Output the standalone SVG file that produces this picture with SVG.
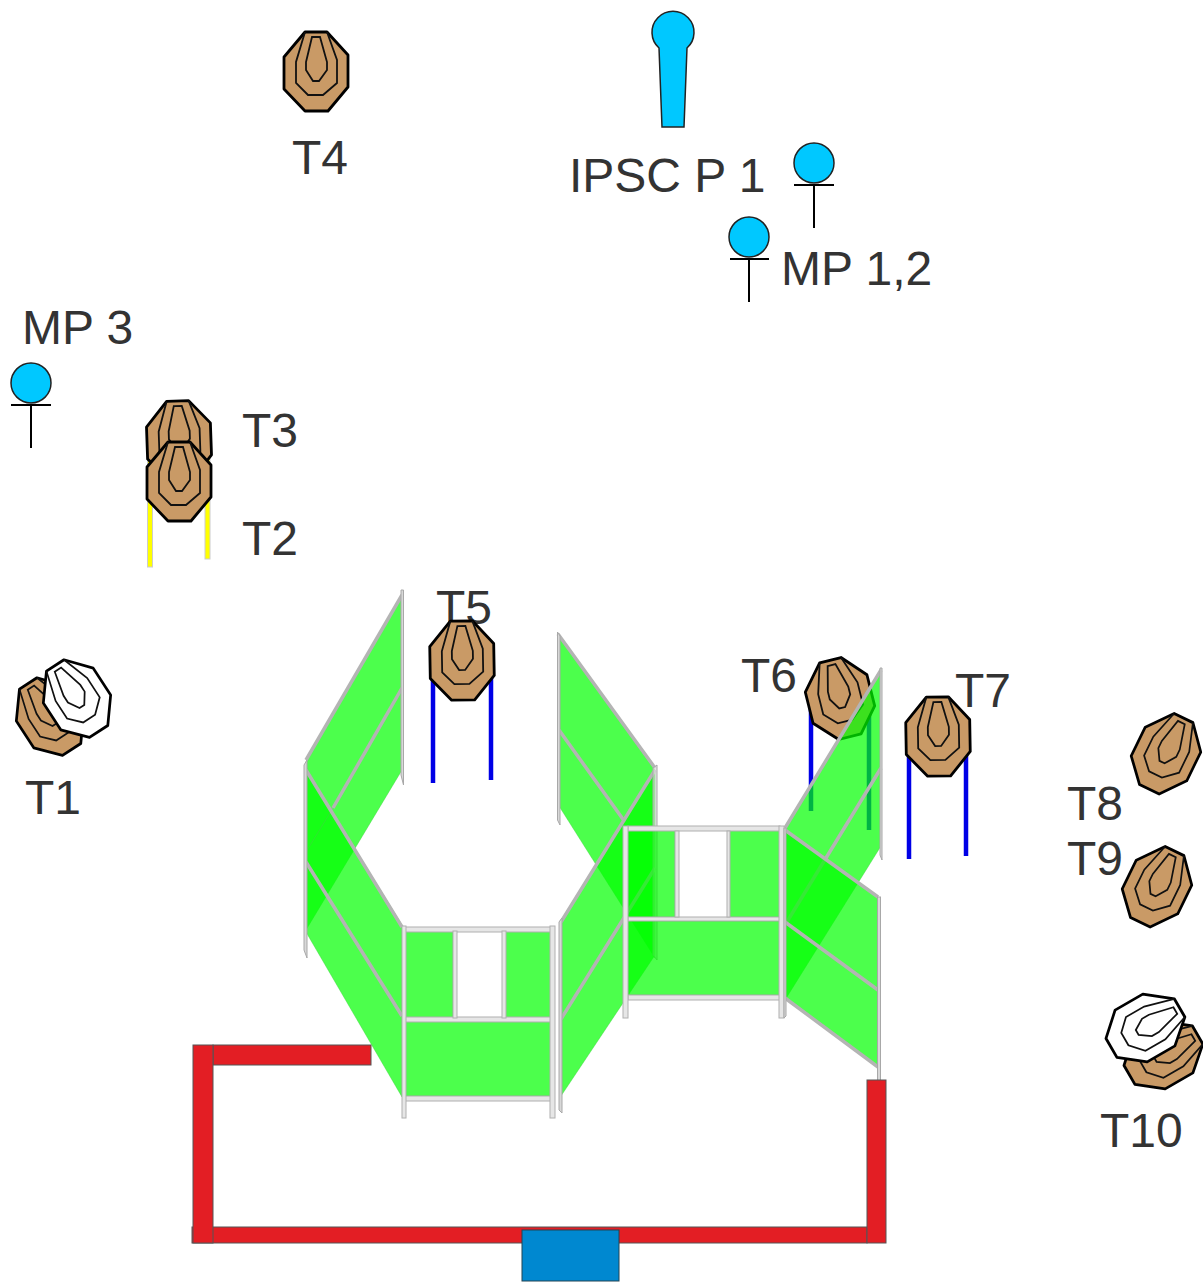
<svg xmlns="http://www.w3.org/2000/svg" xmlns:xlink="http://www.w3.org/1999/xlink" width="1203" height="1282" viewBox="0 0 1203 1282">
<style>
text{font-family:"Liberation Sans",Arial,sans-serif;font-size:48px;fill:#333}
.o{stroke:#000;stroke-width:2.8;stroke-linejoin:round}
.r{fill:none;stroke:#111;stroke-width:1.8}
.tb{fill:#c99a66}
.tw{fill:#fff}
.p{fill:#00ff00;fill-opacity:.7;stroke:#33cc33;stroke-opacity:.5;stroke-width:.8}
.g{stroke:#b4b4b4;stroke-width:3.5;fill:none}
.f{fill:#e6e6e6;stroke:#b0b0b0;stroke-width:1}
.s{fill:#d8d8d8;stroke:#a8a8a8;stroke-width:1}
.bl{stroke:#0000e6;stroke-width:4.5}
.ye{fill:#ffff00;stroke:#ccc;stroke-width:1}
.red{fill:#e31e24;stroke:#555;stroke-width:1}
.pp{fill:#00c8ff;stroke:#222;stroke-width:1.5}
.k{stroke:#000;stroke-width:2;fill:none}
</style>
<defs>
<g id="tgt">
<polygon class="o" points="-11,-40 11,-40 32,-17 32,15 12,39 -11,39 -32,17 -32,-15"/>
<polyline class="r" points="-11,-40 -20,-10 -20,11 -8,23 7,23 21,11 21,-12 11,-40"/>
<polygon class="r" points="-4,-35 4,-35 11,-10 11,-2 3,9 -3,9 -10,-2 -10,-10"/>
</g>
</defs>
<g id="labels">
<text x="292" y="174">T4</text>
<text x="569" y="192">IPSC P 1</text>
<text x="781" y="285">MP 1,2</text>
<text x="22" y="344">MP 3</text>
<text x="242" y="447">T3</text>
<text x="242" y="555">T2</text>
<text x="436" y="624">T5</text>
<text x="741" y="692">T6</text>
<text x="955" y="707">T7</text>
<text x="25" y="814">T1</text>
<text x="1067" y="820">T8</text>
<text x="1067" y="875">T9</text>
<text x="1100" y="1147">T10</text>
</g>
<g id="T4"><use class="tb" xlink:href="#tgt" href="#tgt" transform="translate(316,72)"/></g>
<g id="IPSC-P1">
<path class="pp" d="M659 48A21 21 0 1 1 687 48L684 127H662Z"/>
</g>
<g id="MP1"><circle class="pp" cx="814" cy="163" r="20"/><path class="k" d="M794 185H834M814 185V228"/></g>
<g id="MP2"><circle class="pp" cx="749" cy="237" r="20"/><path class="k" d="M730 259H769M749 259V302"/></g>
<g id="MP3"><circle class="pp" cx="31" cy="383" r="20"/><path class="k" d="M11 405H51M31 405V448"/></g>
<g id="T2-T3">
<rect class="ye" x="147.500" y="460" width="5" height="107"/>
<rect class="ye" x="205" y="455" width="5" height="104"/>
<use class="tb" xlink:href="#tgt" href="#tgt" transform="translate(179,441) rotate(-2)"/>
<use class="tb" xlink:href="#tgt" href="#tgt" transform="translate(179,482)"/>
</g>
<g id="T1">
<use class="tb" xlink:href="#tgt" href="#tgt" transform="translate(50,717) rotate(-33) scale(.95,1)"/>
<use class="tw" xlink:href="#tgt" href="#tgt" transform="translate(77,699) rotate(-33) scale(.95,1)"/>
</g>
<g id="T8"><use class="tb" xlink:href="#tgt" href="#tgt" transform="translate(1166,754) rotate(26) scale(.95,1)"/></g>
<g id="T9"><use class="tb" xlink:href="#tgt" href="#tgt" transform="translate(1157,887) rotate(26) scale(.95,1)"/></g>
<g id="T10">
<use class="tb" xlink:href="#tgt" href="#tgt" transform="translate(1163,1055) rotate(60) scale(.95,1)"/>
<use class="tw" xlink:href="#tgt" href="#tgt" transform="translate(1145,1028) rotate(60) scale(.95,1)"/>
</g>
<g id="T6">
<path class="bl" d="M811 700V811M869 700V830"/>
<use class="tb" xlink:href="#tgt" href="#tgt" transform="translate(840,699) rotate(-14)"/>
</g>
<g id="T5">
<path class="bl" d="M433 670V783M491 670V780"/>
<use class="tb" xlink:href="#tgt" href="#tgt" transform="translate(462,661) rotate(-1)"/>
</g>
<g id="T7">
<path class="bl" d="M909 750V859M966 750V856"/>
<use class="tb" xlink:href="#tgt" href="#tgt" transform="translate(938,737) rotate(-1)"/>
</g>
<g id="walls">
<polygon class="p" points="402,597 402,770 306,930 306,762"/>
<path class="g" d="M402 595L306 760M402 688L333 808" stroke-width="3"/>
<path d="M333 808L306 852" stroke="#9a9" stroke-width="1" fill="none"/>
<polygon class="s" points="401,590 403.500,590 403.500,785 401,775"/>
<polygon class="p" points="306,770 402,925 402,1097 306,932"/>
<path class="g" d="M306 770L402 927M306 862L402 1016"/>
<polygon class="s" points="304,765 307,760 307,958 304,950"/>
<polygon class="p" points="559,637 655,770 655,958 559,806"/>
<path class="g" d="M558 634L655 768M559 730L625 822"/>
<polygon class="s" points="557.500,632 560,636 560,825 557.500,820"/>
<polygon class="p" points="561,922 655,770 655,955 561,1096"/>
<path class="g" d="M561 922L655 770M561 1019L655 868"/>
<polygon class="s" points="559,922 562,918 562,1113 559,1110"/>
<polygon class="s" points="653,768 657,765 657,960 653,955" fill-opacity=".7"/>
<rect class="p" x="405" y="931" width="48" height="87"/>
<rect class="p" x="505" y="931" width="46" height="87"/>
<rect class="p" x="405" y="1021" width="146" height="75"/>
<rect class="f" x="405" y="927" width="146" height="5"/>
<rect class="f" x="405" y="1017" width="146" height="5"/>
<rect class="f" x="405" y="1096" width="146" height="5"/>
<rect class="f" x="453" y="931" width="4" height="87"/>
<rect class="f" x="502" y="931" width="4" height="87"/>
<rect class="f" x="402" y="926" width="4" height="192"/>
<rect class="f" x="550" y="926" width="5" height="192"/>
<polygon class="p" points="785,830 881,672 881,846 785,1000"/>
<path class="g" d="M785 828L881 670M785 925L881 768" stroke-width="3"/>
<polygon class="s" points="880,668 882,668 882,860 880,855"/>
<polygon class="p" points="785,832 878,897 878,1067 785,998"/>
<path class="g" d="M785 830L878 897M785 922L878 990M785 998L878 1067" stroke-width="3"/>
<rect class="s" x="877.500" y="897" width="3" height="185"/>
<rect class="p" x="628" y="830" width="47" height="87"/>
<rect class="p" x="729" y="830" width="51" height="87"/>
<rect class="p" x="628" y="921" width="152" height="74"/>
<rect class="f" x="628" y="826" width="152" height="5"/>
<rect class="f" x="628" y="917" width="152" height="4"/>
<rect class="f" x="628" y="995" width="152" height="5"/>
<rect class="f" x="675" y="831" width="4" height="86"/>
<rect class="f" x="727" y="831" width="3" height="86"/>
<rect class="f" x="623" y="826" width="5" height="192"/>
<rect class="f" x="779" y="826" width="5" height="192"/>
<polygon class="s" points="784,828 786,828 786,1016 784,1018"/>
</g>
<g id="barrier">
<rect class="red" x="213" y="1045" width="158" height="20"/>
<rect class="red" x="192" y="1227" width="675" height="16"/>
<rect class="red" x="193" y="1045" width="20" height="198"/>
<rect class="red" x="867" y="1080" width="19" height="163"/>
</g>
<g id="start-box"><rect x="522" y="1230" width="97" height="51" fill="#0088d0" stroke="#245" stroke-width="1"/></g>
</svg>
